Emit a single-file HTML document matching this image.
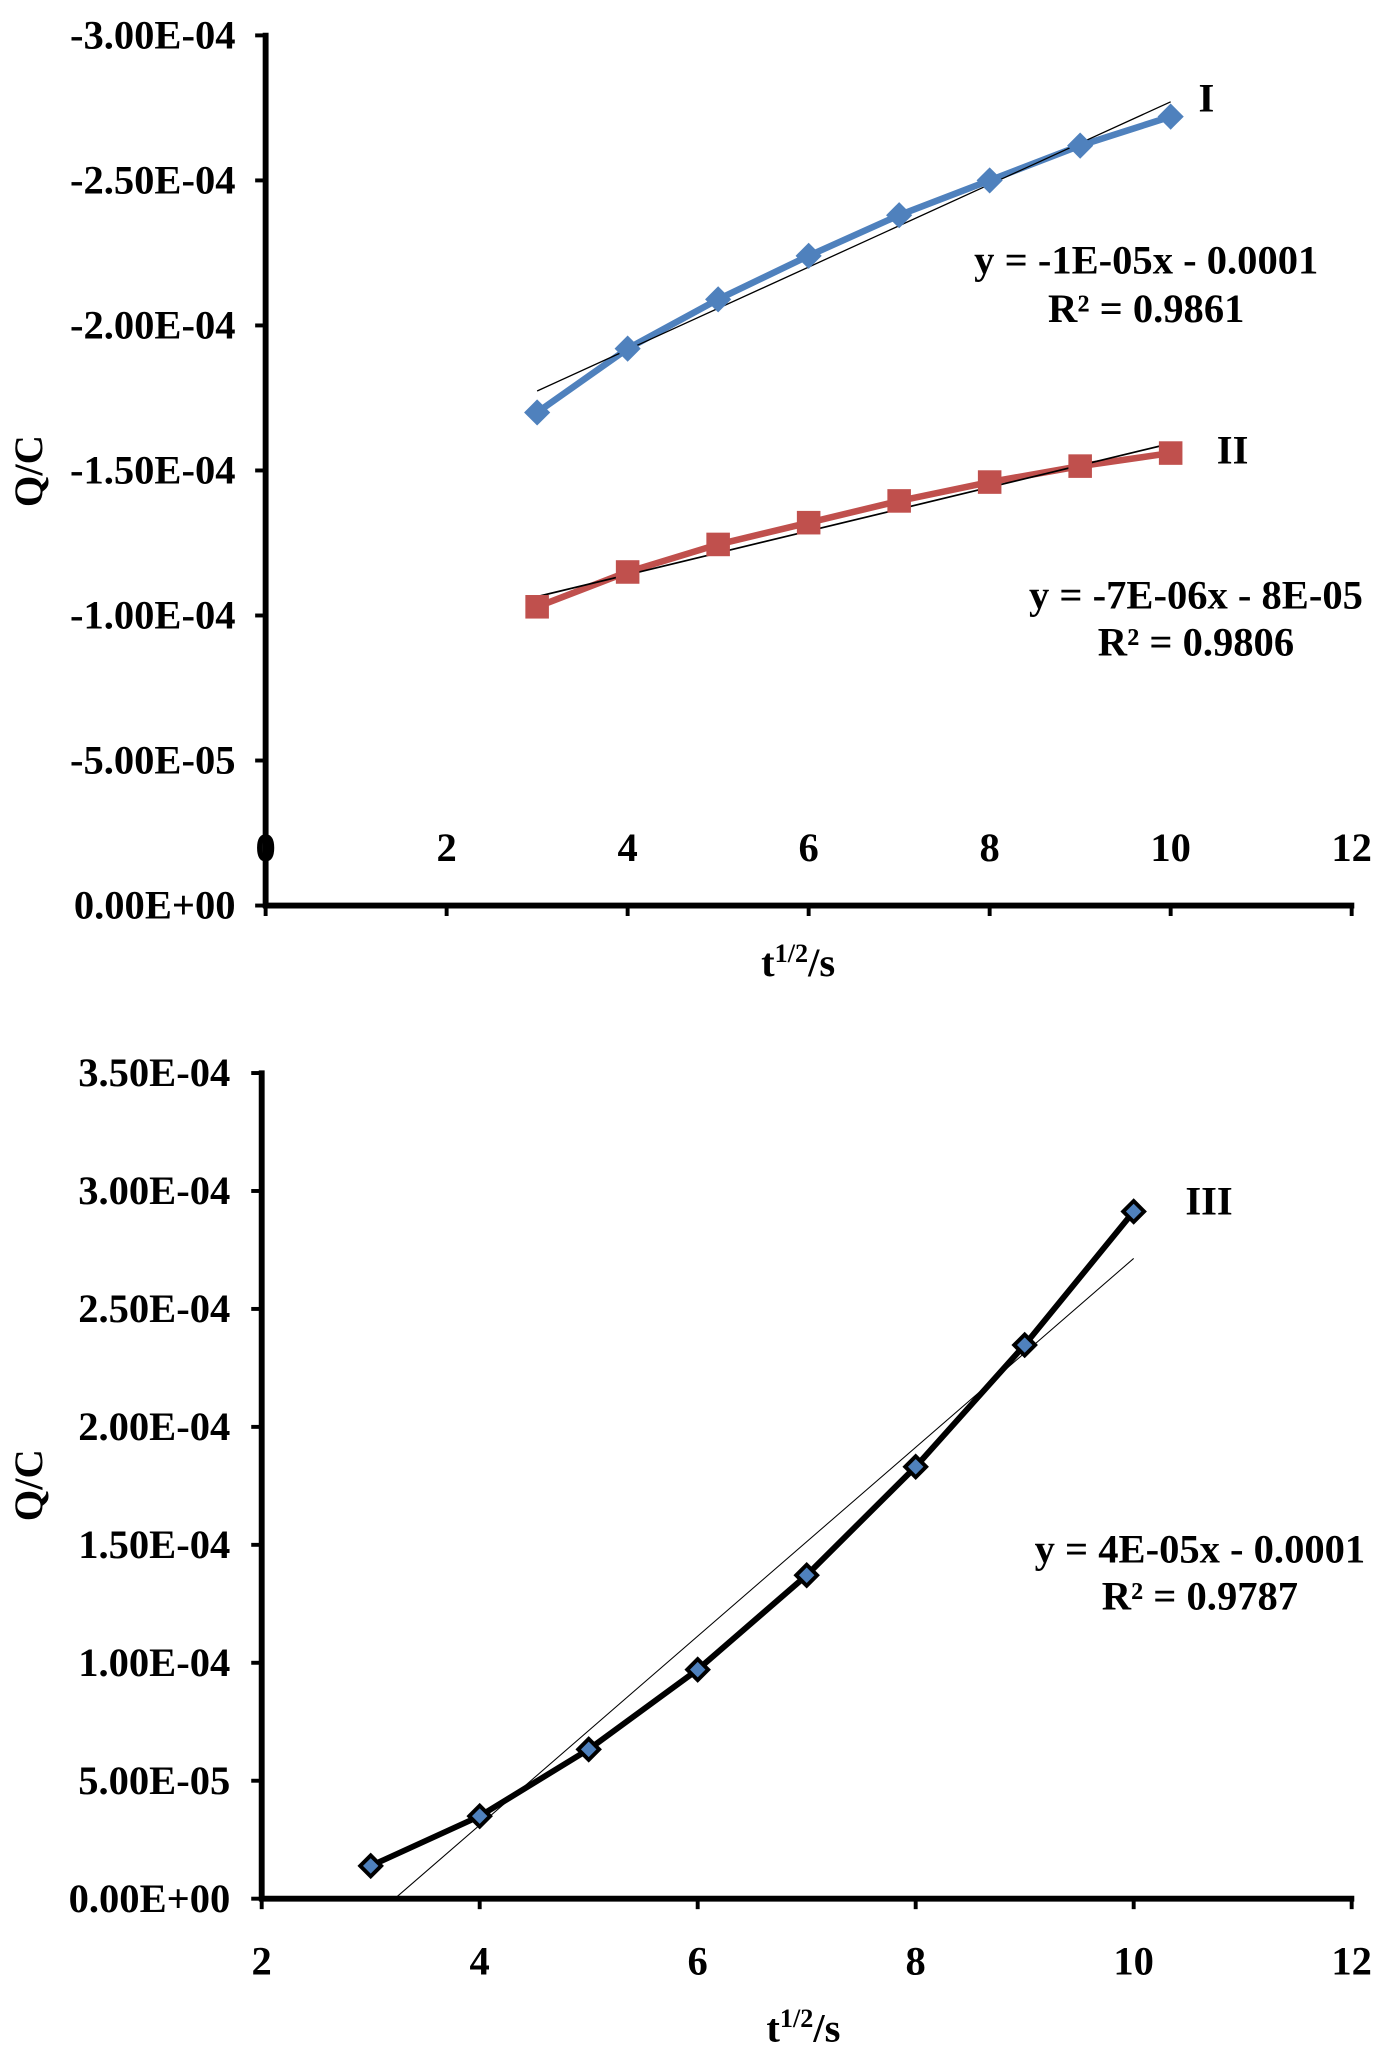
<!DOCTYPE html>
<html><head><meta charset="utf-8"><style>
html,body{margin:0;padding:0;background:#fff;}
svg{display:block;}
text{font-family:"Liberation Serif",serif;font-weight:bold;fill:#000;}
</style></head><body>
<svg id="fig" width="1387" height="2061" viewBox="0 0 1060 1575" xmlns="http://www.w3.org/2000/svg"></svg>
<script>
// Top chart data
const xs = [3,4,5,6,7,8,9,10];
const seriesI = [-1.70e-4,-1.92e-4,-2.09e-4,-2.24e-4,-2.38e-4,-2.50e-4,-2.62e-4,-2.72e-4];
const seriesII = [-1.03e-4,-1.15e-4,-1.245e-4,-1.32e-4,-1.395e-4,-1.46e-4,-1.515e-4,-1.56e-4];
const trendI = [[3,-1.774e-4],[10,-2.771e-4]];
const trendII = [[3,-1.065e-4],[10,-1.593e-4]];
const topYTicks = [0,-5e-5,-1e-4,-1.5e-4,-2e-4,-2.5e-4,-3e-4];
const topYLabels = ["0.00E+00","-5.00E-05","-1.00E-04","-1.50E-04","-2.00E-04","-2.50E-04","-3.00E-04"];
const topXTicks = [0,2,4,6,8,10,12];
// Bottom chart data
const seriesIII = [1.39e-5,3.50e-5,6.33e-5,9.71e-5,1.371e-4,1.831e-4,2.347e-4,2.913e-4];
const trendIII = [[3.22,0],[10,2.714e-4]];
const botYTicks = [0,5e-5,1e-4,1.5e-4,2e-4,2.5e-4,3e-4,3.5e-4];
const botYLabels = ["0.00E+00","5.00E-05","1.00E-04","1.50E-04","2.00E-04","2.50E-04","3.00E-04","3.50E-04"];
const botXTicks = [2,4,6,8,10,12];

const svg = document.getElementById('fig');
const NS = 'http://www.w3.org/2000/svg';
function mk(tag, attrs, parent){const e=document.createElementNS(NS,tag);for(const k in attrs)e.setAttribute(k,attrs[k]);(parent||svg).appendChild(e);return e;}
function txt(s,x,y,size,anchor,parent){const t=mk('text',{x:x,y:y,'font-size':size,'text-anchor':anchor||'middle'},parent);t.textContent=s;return t;}
const TS=31, ES=31;

// ---------- top chart ----------
const tx = v => 203 + (v-0)*(1033-203)/12;
const ty = v => 692 + v*(692-27)/3e-4;
const gTop = mk('g',{});


topYTicks.forEach((v,i)=>{
  const l=mk('line',{x1:195,x2:203,y1:ty(v),y2:ty(v),stroke:'#000','stroke-width':3},gTop);
  
  
  const t=txt(topYLabels[i],180,ty(v)+10,TS,'end',gTop);
  
  
});
topXTicks.forEach(v=>{
  const l=mk('line',{x1:tx(v),x2:tx(v),y1:692,y2:700,stroke:'#000','stroke-width':3},gTop);
  
  
  const t=txt(String(v),tx(v),658,TS,'middle',gTop);
  
  
});
let ax=mk('line',{x1:203,x2:203,y1:25,y2:694,stroke:'#000','stroke-width':4.5},gTop);


ax=mk('line',{x1:201,x2:1035,y1:692,y2:692,stroke:'#000','stroke-width':4.5},gTop);



function series(g,vals,xf,yf,color,width,name){
  const p=mk('polyline',{points:xs.map((x,i)=>xf(x)+','+yf(vals[i])).join(' '),fill:'none',stroke:color,'stroke-width':width,'stroke-linejoin':'round'},g);
  
  
}
function trend(g,tr,xf,yf,name,w){
  const l=mk('line',{x1:xf(tr[0][0]),y1:yf(tr[0][1]),x2:xf(tr[1][0]),y2:yf(tr[1][1]),stroke:'#000','stroke-width':w},g);
  
  
}
series(gTop,seriesI,tx,ty,'#4f81bd',5,'series-i');
trend(gTop,trendI,tx,ty,'trendline-i',1);
xs.forEach((x,i)=>{
  const cx=tx(x),cy=ty(seriesI[i]);
  const m=mk('polygon',{points:`${cx},${cy-10} ${cx+10},${cy} ${cx},${cy+10} ${cx-10},${cy}`,fill:'#4f81bd'},gTop);
  
  
});
series(gTop,seriesII,tx,ty,'#c0504d',5,'series-ii');
trend(gTop,trendII,tx,ty,'trendline-ii',1.3);
xs.forEach((x,i)=>{
  const cx=tx(x),cy=ty(seriesII[i]);
  const m=mk('rect',{x:cx-9,y:cy-9,width:18,height:18,fill:'#c0504d'},gTop);
  
  
});
let t;
t=txt('I',922,85,ES,'middle',gTop);
t=txt('II',942,354,ES,'middle',gTop);
t=txt('y = -1E-05x - 0.0001',876,209,ES,'middle',gTop);
t=txt('R² = 0.9861',876,246,ES,'middle',gTop);
t=txt('y = -7E-06x - 8E-05',914,465,ES,'middle',gTop);
t=txt('R² = 0.9806',914,501,ES,'middle',gTop);
t=txt('Q/C',0,0,ES,'middle',gTop);t.setAttribute('transform','translate(32,360) rotate(-90)');
t=mk('text',{x:610,y:746,'font-size':ES,'text-anchor':'middle'},gTop);
t.innerHTML='t<tspan font-size="20" dy="-11">1/2</tspan><tspan dy="11">/s</tspan>';


// ---------- bottom chart ----------
const bx = v => 200 + (v-2)*(1033-200)/10;
const by = v => 1451 - v*(1451-820)/3.5e-4;
const gB = mk('g',{});


botYTicks.forEach((v,i)=>{
  const l=mk('line',{x1:192,x2:200,y1:by(v),y2:by(v),stroke:'#000','stroke-width':3},gB);
  
  
  const tt=txt(botYLabels[i],176,by(v)+10,TS,'end',gB);
  
  
});
botXTicks.forEach(v=>{
  const l=mk('line',{x1:bx(v),x2:bx(v),y1:1451,y2:1459,stroke:'#000','stroke-width':3},gB);
  
  
  const tt=txt(String(v),bx(v),1509,TS,'middle',gB);
  
  
});
ax=mk('line',{x1:200,x2:200,y1:818,y2:1453,stroke:'#000','stroke-width':4.5},gB);


ax=mk('line',{x1:198,x2:1035,y1:1451,y2:1451,stroke:'#000','stroke-width':4.5},gB);


trend(gB,trendIII,bx,by,'trendline-iii',0.8);
series(gB,seriesIII,bx,by,'#000',4.5,'series-iii');
xs.forEach((x,i)=>{
  const cx=bx(x),cy=by(seriesIII[i]);
  const m=mk('polygon',{points:`${cx},${cy-8} ${cx+8},${cy} ${cx},${cy+8} ${cx-8},${cy}`,fill:'#4f81bd',stroke:'#000','stroke-width':3},gB);
  
  
});
t=txt('III',924,928,ES,'middle',gB);
t=txt('y = 4E-05x - 0.0001',917,1194,ES,'middle',gB);
t=txt('R² = 0.9787',917,1230,ES,'middle',gB);
t=txt('Q/C',0,0,ES,'middle',gB);t.setAttribute('transform','translate(32,1135) rotate(-90)');
t=mk('text',{x:614,y:1560,'font-size':ES,'text-anchor':'middle'},gB);
t.innerHTML='t<tspan font-size="20" dy="-11">1/2</tspan><tspan dy="11">/s</tspan>';

</script>
</body></html>
